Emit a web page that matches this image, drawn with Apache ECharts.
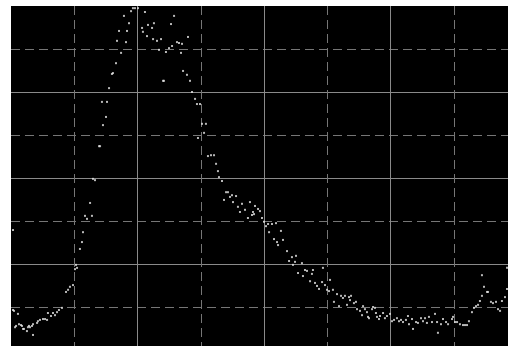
<!DOCTYPE html>
<html>
<head>
<meta charset="utf-8">
<script src="https://cdn.jsdelivr.net/npm/echarts@6/dist/echarts.min.js"></script>
<style>
  html, body { margin: 0; padding: 0; background: #ffffff; }
  #chart { width: 508px; height: 346px; }
</style>
</head>
<body>
<div id="chart"></div>
<script>
// Sample positions (x) and measured intensities (y)
const xValues = [
  1.6, 1.6, 2.4, 4.0, 3.2, 5.5, 6.3, 7.9, 8.7, 9.5, 10.3, 12.6, 13.4, 14.2, 15.0, 16.6, 17.4, 17.4, 20.6, 21.3,
  22.9, 25.3, 26.9, 28.5, 29.2, 31.6, 33.2, 34.8, 36.4, 37.9, 40.3, 43.5, 45.1, 46.6, 49.0, 50.6, 51.4, 52.2, 54.5, 56.1,
  56.9, 58.5, 60.1, 62.5, 64.0, 64.8, 66.4, 69.6, 70.4, 71.9, 72.7, 75.1, 75.9, 77.5, 79.8, 80.6, 83.0, 83.8, 85.4, 87.0,
  89.3, 90.9, 91.7, 93.3, 94.9, 96.4, 98.0, 100.4, 103.6, 104.3, 105.9, 107.5, 108.3, 111.5, 112.3, 113.0, 115.4, 117.0, 118.6, 120.2,
  120.9, 122.5, 124.9, 126.5, 127.3, 128.9, 131.2, 132.8, 134.4, 135.2, 136.0, 139.1, 139.9, 141.5, 143.1, 145.5, 147.0, 147.8, 149.4, 151.0,
  152.6, 154.1, 155.7, 158.1, 160.5, 162.1, 163.6, 164.4, 166.8, 168.4, 170.0, 171.5, 173.1, 174.7, 175.5, 177.9, 179.4, 181.0, 182.6, 185.0,
  187.3, 188.9, 190.5, 191.3, 192.1, 192.9, 195.3, 196.8, 198.4, 200.0, 201.6, 203.2, 204.0, 206.3, 207.9, 209.5, 210.3, 211.1, 213.4, 215.0,
  218.2, 219.8, 222.1, 222.9, 224.5, 225.3, 226.9, 230.0, 230.8, 232.4, 234.0, 236.4, 237.9, 238.7, 240.3, 241.9, 243.5, 245.9, 246.6, 248.2,
  249.8, 251.4, 252.2, 254.5, 255.3, 257.7, 259.3, 260.9, 262.4, 264.0, 265.6, 267.2, 268.0, 268.8, 271.1, 272.7, 273.5, 275.9, 277.5, 278.3,
  279.8, 281.4, 282.2, 283.0, 285.4, 286.2, 287.7, 288.5, 289.3, 290.9, 291.7, 294.1, 295.6, 297.2, 299.6, 301.2, 302.8, 305.1, 306.7, 308.3,
  309.9, 312.2, 313.8, 314.6, 317.0, 317.8, 320.2, 321.7, 324.1, 325.7, 327.3, 328.8, 330.4, 332.8, 335.2, 336.8, 337.5, 339.9, 341.5, 343.9,
  345.5, 348.6, 349.4, 351.0, 352.6, 354.9, 357.3, 358.9, 360.5, 362.0, 364.4, 366.0, 367.6, 369.2, 370.7, 372.3, 372.3, 373.9, 376.3, 377.1,
  379.4, 381.0, 383.4, 385.0, 386.6, 388.1, 390.5, 392.1, 392.1
];
const yValues = [
  27.9, 9.3, 9.1, 5.6, 5.3, 8.4, 6.0, 5.8, 5.6, 4.9, 4.9, 4.4, 5.3, 5.6, 5.3, 5.6, 6.0, 3.5, 6.3, 6.7,
  7.0, 7.2, 7.2, 7.0, 8.6, 7.9, 8.6, 8.1, 8.8, 9.3, 9.8, 13.5, 14.0, 14.7, 15.1, 18.8, 19.8, 19.1, 23.5, 25.1,
  27.4, 31.2, 30.5, 34.2, 31.2, 39.8, 39.5, 47.4, 47.4, 57.7, 52.3, 54.2, 57.7, 60.9, 64.2, 64.4, 66.7, 71.9, 74.2, 69.1,
  77.7, 71.6, 74.2, 76.0, 78.8, 79.5, 79.5, 79.5, 74.9, 74.0, 78.6, 73.0, 75.6, 74.9, 72.3, 76.0, 71.9, 69.8, 72.3, 62.6,
  62.6, 69.3, 70.2, 75.8, 70.7, 77.7, 71.6, 71.4, 69.1, 71.2, 64.9, 64.0, 72.8, 62.6, 60.0, 58.4, 57.2, 49.3, 57.2, 52.6,
  50.5, 52.6, 45.1, 45.3, 45.3, 43.3, 41.6, 40.2, 39.3, 34.9, 36.7, 36.7, 35.6, 36.0, 34.4, 35.8, 33.3, 32.1, 34.0, 32.6,
  30.7, 34.4, 31.4, 32.1, 31.6, 33.5, 32.8, 32.3, 30.7, 29.8, 28.8, 29.3, 27.4, 29.3, 25.8, 29.5, 25.1, 24.4, 27.7, 25.6,
  23.0, 20.7, 21.6, 19.8, 20.5, 21.9, 17.9, 20.2, 17.2, 18.6, 18.4, 16.0, 17.7, 18.6, 15.6, 14.9, 14.2, 15.8, 19.1, 15.1,
  14.0, 13.7, 16.3, 14.0, 11.2, 13.0, 10.2, 12.6, 12.1, 12.6, 10.5, 12.3, 11.6, 12.6, 10.9, 11.2, 9.5, 9.1, 8.1, 10.2,
  9.5, 8.8, 7.7, 7.4, 9.5, 10.0, 9.8, 8.6, 7.7, 7.2, 7.9, 8.6, 7.4, 7.9, 8.4, 6.7, 7.0, 7.4, 6.7, 7.0,
  6.5, 7.0, 7.9, 6.0, 7.2, 4.9, 6.5, 6.3, 7.4, 6.7, 7.4, 6.3, 7.7, 6.5, 8.4, 6.5, 4.0, 6.0, 7.2, 6.5,
  6.0, 7.2, 7.7, 6.5, 6.5, 6.0, 5.8, 5.8, 5.8, 6.7, 8.8, 9.8, 10.2, 10.5, 11.4, 12.6, 17.4, 14.7, 13.5, 13.5,
  11.2, 10.9, 11.2, 9.5, 9.1, 11.4, 12.3, 14.2, 19.1
];

// Axis ranges: fine (dashed) and coarse (solid) graticule spacing
const xRange = [0, 400];
const yRange = [0, 80];
const xFineStep = 50, xCoarseStep = 100;
const yFineStep = 10, yCoarseStep = 20;

const points = xValues.map((x, i) => [x, yValues[i]]);

const dashed = { color: '#767676', width: 1, type: [9, 5] };
const solid = { color: '#8a8a8a', width: 1, type: 'solid' };

function gridAxis(range, step, lineStyle, position) {
  return {
    type: 'value',
    position: position,
    min: range[0],
    max: range[1],
    interval: step,
    axisLine: { show: false },
    axisTick: { show: false },
    axisLabel: { show: false },
    splitLine: { show: true, showMinLine: false, showMaxLine: false, lineStyle: lineStyle }
  };
}

const chart = echarts.init(document.getElementById('chart'), null, { renderer: 'canvas' });
chart.setOption({
  animation: false,
  backgroundColor: '#ffffff',
  grid: {
    show: true,
    // the plotting window runs past the right and bottom edges of the page
    outerBoundsMode: 'none',
    left: 11, top: 6, width: 506, height: 344,
    backgroundColor: '#000000',
    borderWidth: 0
  },
  xAxis: [
    gridAxis(xRange, xFineStep, dashed, 'bottom'),
    gridAxis(xRange, xCoarseStep, solid, 'top')
  ],
  yAxis: [
    gridAxis(yRange, yFineStep, dashed, 'left'),
    gridAxis(yRange, yCoarseStep, solid, 'right')
  ],
  series: [{
    type: 'scatter',
    xAxisIndex: 0,
    yAxisIndex: 0,
    symbol: 'rect',
    symbolSize: 2,
    itemStyle: { color: '#e6e6e6' },
    data: points,
    z: 5
  }]
});
</script>
</body>
</html>
